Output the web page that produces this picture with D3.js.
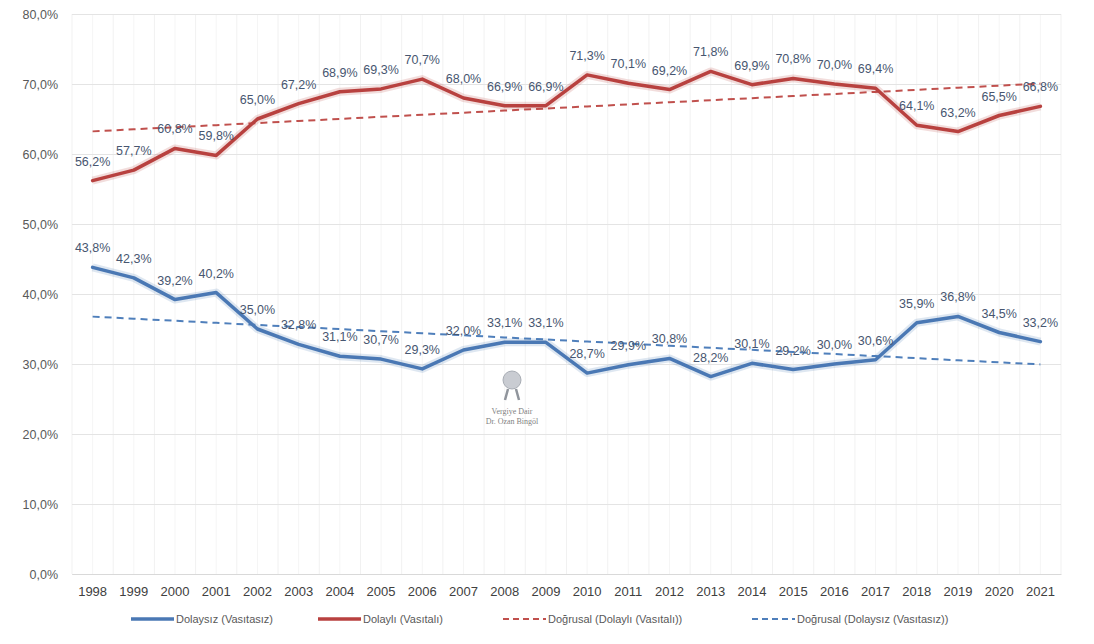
<!DOCTYPE html>
<html><head><meta charset="utf-8">
<script src="https://cdn.jsdelivr.net/npm/d3@7"></script>
<style>
body{margin:0;background:#fff;}
text{font-family:"Liberation Sans","DejaVu Sans",sans-serif;}
</style></head>
<body><svg id="c" width="1094" height="644"></svg>
<script>
const years = ["1998","1999","2000","2001","2002","2003","2004","2005","2006","2007","2008","2009","2010","2011","2012","2013","2014","2015","2016","2017","2018","2019","2020","2021"];
const dolaysiz = [43.8,42.3,39.2,40.2,35.0,32.8,31.1,30.7,29.3,32.0,33.1,33.1,28.7,29.9,30.8,28.2,30.1,29.2,30.0,30.6,35.9,36.8,34.5,33.2];
const dolayli = [56.2,57.7,60.8,59.8,65.0,67.2,68.9,69.3,70.7,68.0,66.9,66.9,71.3,70.1,69.2,71.8,69.9,70.8,70.0,69.4,64.1,63.2,65.5,66.8];
const yTicks = [0,10,20,30,40,50,60,70,80];
const legendNames = ["Dolaysız (Vasıtasız)","Dolaylı (Vasıtalı)","Doğrusal (Dolaylı (Vasıtalı))","Doğrusal (Dolaysız (Vasıtasız))"];

const blue = "#4a78b4", red = "#b8413f", labelCol = "#475670", axisCol = "#595959";
const svg = d3.select("#c");
const L = 72, R = 1061, T = 14, B = 574;
const x = d3.scaleBand().domain(years).range([L, R]);
const y = d3.scaleLinear().domain([0, 80]).range([B, T]);
const cx = d => x(d) + x.bandwidth()/2;
const loc = d3.formatLocale({decimal:",", thousands:".", grouping:[3], currency:["",""]});
const f1 = loc.format(".1f");

// vertical faint gridlines
const g = svg.append("g");
years.forEach(yr => {
  g.append("line").attr("x1", x(yr)).attr("x2", x(yr)).attr("y1", T).attr("y2", B).attr("stroke", "#f1f1f1");
  g.append("line").attr("x1", cx(yr)).attr("x2", cx(yr)).attr("y1", T).attr("y2", B).attr("stroke", "#f5f5f5");
});
g.append("line").attr("x1", R).attr("x2", R).attr("y1", T).attr("y2", B).attr("stroke", "#f1f1f1");

// horizontal gridlines
const yAxis = d3.axisLeft(y).tickValues(yTicks).tickSize(-(R - L)).tickFormat(d => f1(d) + "%");
const ya = svg.append("g").attr("transform", `translate(${L},0)`).call(yAxis);
ya.select(".domain").remove();
ya.selectAll(".tick line").attr("stroke", "#e4e4e4").attr("stroke-width", 1.2);
ya.selectAll(".tick text").attr("x", -14).attr("fill", axisCol).style("font-size", "12.5px");

// x axis
const xAxis = d3.axisBottom(x).tickSize(0);
const xa = svg.append("g").attr("transform", `translate(0,${B})`).call(xAxis);
xa.select(".domain").attr("stroke", "#d9d9d9");
xa.selectAll(".tick text").attr("dy", "1.45em").attr("fill", "#404040").style("font-size", "13px");

// linear trend (least squares, as Excel "Doğrusal")
function trend(vals) {
  const n = vals.length, xs = d3.range(n);
  const mx = d3.mean(xs), my = d3.mean(vals);
  const b = d3.sum(xs, i => (i - mx) * (vals[i] - my)) / d3.sum(xs, i => (i - mx) ** 2);
  const a = my - b * mx;
  return xs.map(i => a + b * i);
}
const line = d3.line().x((d, i) => cx(years[i])).y(d => y(d));

function drawSeries(vals, col) {
  svg.append("path").datum(vals).attr("d", line).attr("fill", "none").attr("stroke", col).attr("stroke-opacity", 0.18).attr("stroke-width", 8).attr("stroke-linejoin", "round");
  svg.append("path").datum(vals).attr("d", line).attr("fill", "none").attr("stroke", col).attr("stroke-width", 3.5).attr("stroke-linejoin", "round").attr("stroke-linecap", "round");
}
function drawTrend(vals, col) {
  svg.append("path").datum(trend(vals)).attr("d", line).attr("fill", "none").attr("stroke", col).attr("stroke-width", 2).attr("stroke-dasharray", "7,5");
}
drawTrend(dolayli, "#c0504d");
drawTrend(dolaysiz, "#4f7fbb");
drawSeries(dolaysiz, blue);
drawSeries(dolayli, red);

function labels(vals) {
  svg.append("g").selectAll("text").data(vals).join("text")
    .attr("x", (d, i) => cx(years[i]))
    .attr("y", d => y(d) - 15)
    .attr("text-anchor", "middle")
    .attr("fill", labelCol)
    .style("font-size", "12.5px")
    .text(d => f1(d) + "%");
}
labels(dolayli);
labels(dolaysiz);

// watermark
const wm = svg.append("g").attr("opacity", 0.75);
wm.append("circle").attr("cx", 512).attr("cy", 380).attr("r", 9).attr("fill", "#b8bcc4").attr("stroke", "#8c929c");
wm.append("path").attr("d", "M508 389 L505 400 M516 389 L519 400").attr("stroke", "#6c727c").attr("stroke-width", 2.5);
wm.append("text").attr("x", 512).attr("y", 414).attr("text-anchor", "middle").attr("fill", "#555").style("font-family", "Liberation Serif, serif").style("font-size", "8px").text("Vergiye Dair");
wm.append("text").attr("x", 512).attr("y", 424).attr("text-anchor", "middle").attr("fill", "#555").style("font-family", "Liberation Serif, serif").style("font-size", "8px").text("Dr. Ozan Bingöl");

// legend
const leg = [
  {name: legendNames[0], col: blue, dash: null, x0: 131},
  {name: legendNames[1], col: red, dash: null, x0: 318},
  {name: legendNames[2], col: "#c0504d", dash: "6,4", x0: 503},
  {name: legendNames[3], col: "#4f7fbb", dash: "6,4", x0: 752}
];
const lg = svg.append("g");
leg.forEach(l => {
  lg.append("line").attr("x1", l.x0).attr("x2", l.x0 + 43).attr("y1", 619).attr("y2", 619)
    .attr("stroke", l.col).attr("stroke-width", l.dash ? 2 : 3.5).attr("stroke-dasharray", l.dash);
  lg.append("text").attr("x", l.x0 + 45).attr("y", 623).attr("fill", axisCol).style("font-size", "11px").text(l.name);
});
</script></body></html>
